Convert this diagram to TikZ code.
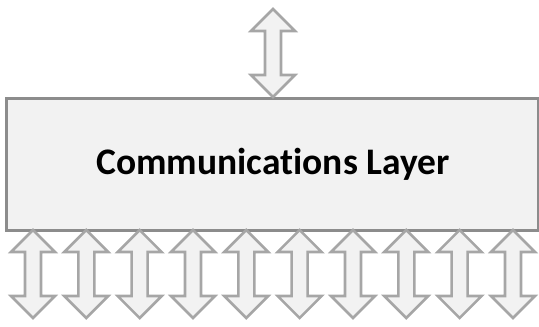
\documentclass[tikz,border=0pt]{standalone}
\usepackage{fontspec}
\setmainfont[Ligatures=NoCommon]{Carlito}
\definecolor{boxfill}{HTML}{F2F2F2}
\definecolor{boxline}{HTML}{8C8C8C}
\definecolor{arrline}{HTML}{A6A6A6}
\tikzset{
  layerbox/.style={draw=boxline, fill=boxfill, line width=3pt},
  dblarrow/.style={draw=arrline, fill=boxfill, line width=2.6pt, line join=miter},
}
\newcommand{\dblarr}[3]{% name, cx, ytop
  \draw[dblarrow] (#2,#3) -- ++(22,22) -- ++(-14,0) -- ++(0,44) -- ++(14,0)
    -- ++(-22,22) coordinate (#1-b) -- ++(-22,-22) -- ++(14,0) -- ++(0,-44) -- ++(-14,0) -- cycle;
  \coordinate (#1-t) at (#2,#3);
}
\begin{document}
\begin{tikzpicture}[x=1pt,y=-1pt]
\useasboundingbox (0,0) rectangle (539,327);
\node[layerbox, minimum width=532pt, minimum height=132pt, anchor=north west, inner sep=0pt] (layer) at (5,97) {};
\node[font=\bfseries\fontsize{37.5}{42}\selectfont, anchor=base] (lbl) at (273,174) {Communications Layer};
\dblarr{top}{273}{9}
\foreach \i in {0,...,9} {
  \pgfmathsetmacro{\cx}{33+53.33*\i}
  \dblarr{b\i}{\cx}{230}
}
\end{tikzpicture}
\end{document}
